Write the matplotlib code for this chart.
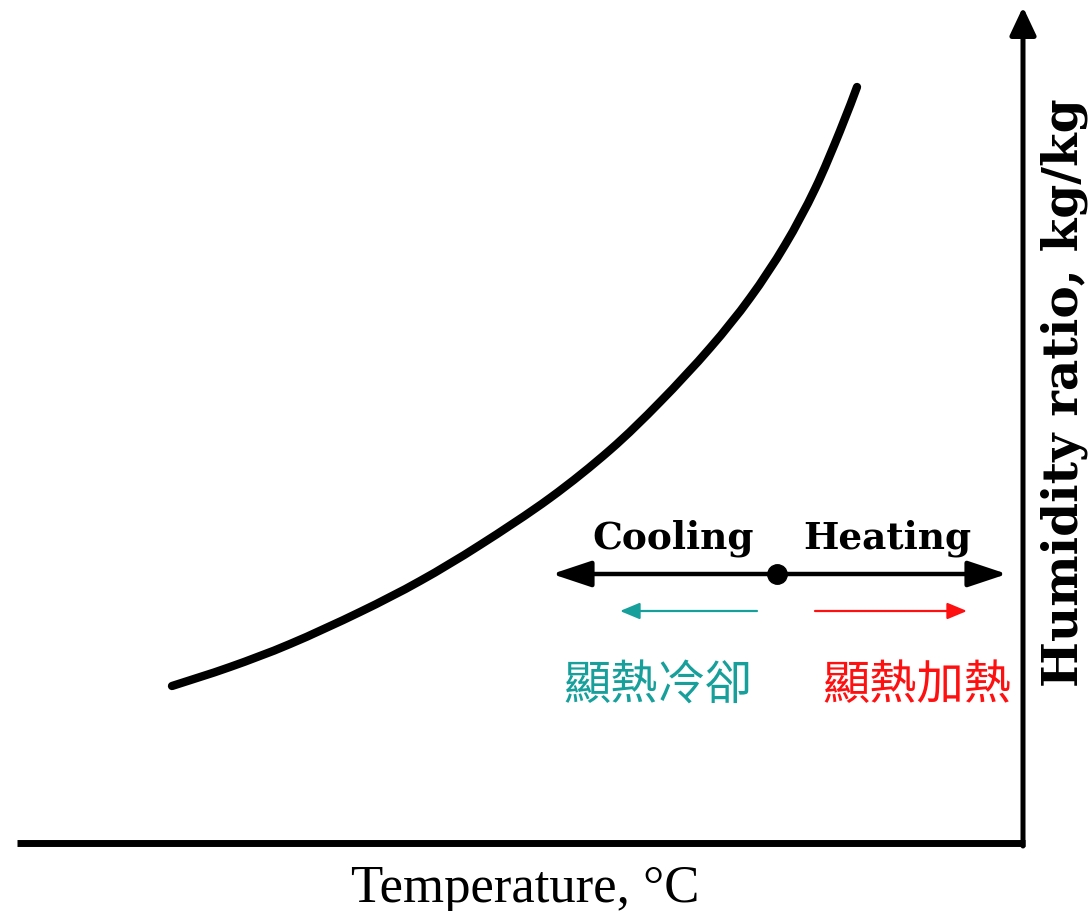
import matplotlib
matplotlib.use("Agg")
import matplotlib.pyplot as plt
from matplotlib.path import Path
from matplotlib.patches import PathPatch

# saturation curve (schematic units, y grows downward like the scan)
curve_x = [172, 230, 290, 360, 420, 480, 550, 610, 660, 710, 750, 785, 815, 840, 857]
curve_y = [687, 668, 645, 613, 582, 546, 499, 451, 403, 349, 299, 246, 190, 132, 88]

# state point and process arrows
state_x, state_y = 777, 575
cool_end, heat_end = 552, 1007
sub_y = 612
cool_sub = (757, 620)
heat_sub = (815, 967)

origin_x, origin_y = 1023, 844
axis_left, axis_top = 17, 8

teal = "#17a09b"
red = "#ff1010"


def smooth_path(xs, ys):
    # Catmull-Rom through the points, as cubic bezier segments
    pts = list(zip(xs, ys))
    verts = [pts[0]]
    codes = [Path.MOVETO]
    for i in range(len(pts) - 1):
        p0 = pts[max(i - 1, 0)]
        p1 = pts[i]
        p2 = pts[i + 1]
        p3 = pts[min(i + 2, len(pts) - 1)]
        c1 = (p1[0] + (p2[0] - p0[0]) / 6, p1[1] + (p2[1] - p0[1]) / 6)
        c2 = (p2[0] - (p3[0] - p1[0]) / 6, p2[1] - (p3[1] - p1[1]) / 6)
        verts += [c1, c2, p2]
        codes += [Path.CURVE4] * 3
    return Path(verts, codes)


fig = plt.figure(figsize=(10.91, 9.12), dpi=100)
ax = fig.add_axes([0, 0, 1, 1])
ax.set_xlim(0, 1091)
ax.set_ylim(912, 0)
ax.axis("off")

# axes
ax.plot([axis_left, origin_x + 2], [origin_y, origin_y], color="black", lw=5, solid_capstyle="butt")
ax.annotate("", xy=(origin_x, axis_top), xytext=(origin_x, origin_y + 3),
            arrowprops=dict(arrowstyle="-|>,head_length=17,head_width=8", lw=3.6,
                            color="black", shrinkA=0, shrinkB=0, mutation_scale=1))

# curve
ax.add_patch(PathPatch(smooth_path(curve_x, curve_y), facecolor="none", edgecolor="black",
                       lw=6, capstyle="round", joinstyle="round"))

# cooling / heating arrow
ax.annotate("", xy=(cool_end, state_y), xytext=(heat_end, state_y),
            arrowprops=dict(arrowstyle="<|-|>,head_length=24,head_width=8", lw=3.2,
                            color="black", shrinkA=0, shrinkB=0, mutation_scale=1))
ax.plot(state_x, state_y, "o", ms=14, color="black")

ax.annotate("", xy=(cool_sub[1], sub_y), xytext=(cool_sub[0], sub_y),
            arrowprops=dict(arrowstyle="-|>,head_length=12,head_width=5", lw=1.6,
                            color=teal, shrinkA=0, shrinkB=0, mutation_scale=1))
ax.annotate("", xy=(heat_sub[1], sub_y), xytext=(heat_sub[0], sub_y),
            arrowprops=dict(arrowstyle="-|>,head_length=12,head_width=5", lw=1.6,
                            color=red, shrinkA=0, shrinkB=0, mutation_scale=1))

serif = ["Liberation Serif", "DejaVu Serif"]
wide_serif = ["DejaVu Serif"]
cjk = ["Noto Sans CJK TC", "DejaVu Sans"]

ax.text(673, 549, "Cooling", family=wide_serif, fontsize=27, fontweight="bold",
        ha="center", va="baseline")
ax.text(887, 549, "Heating", family=wide_serif, fontsize=27, fontweight="bold",
        ha="center", va="baseline")
ax.text(563, 686, "顯熱冷卻", family=cjk, fontsize=34, color=teal, ha="left", va="center")
ax.text(822, 686, "顯熱加熱", family=cjk, fontsize=34, color=red, ha="left", va="center")

ax.text(525, 902, "Temperature, °C", family=serif, fontsize=38, ha="center", va="baseline")
ax.text(1078, 393, "Humidity ratio, kg/kg", family=wide_serif, fontsize=35, fontweight="bold",
        rotation=90, rotation_mode="anchor", ha="center", va="baseline")

fig.savefig("out.png", dpi=100, facecolor="white")
